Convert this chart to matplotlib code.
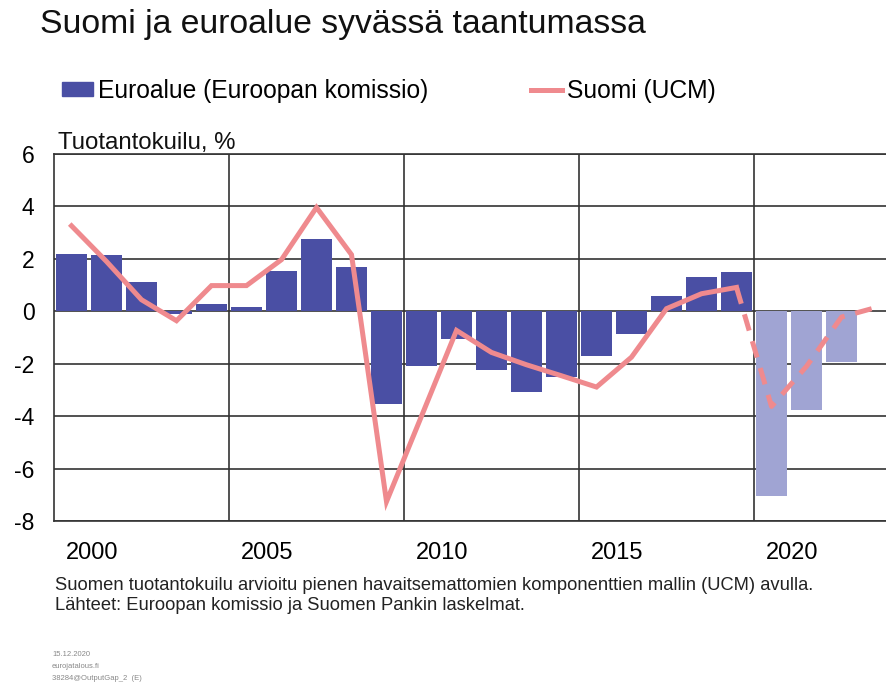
import numpy as np
import matplotlib
matplotlib.use("Agg")
from matplotlib import pyplot as plt
from matplotlib.patches import Patch
from matplotlib.lines import Line2D

plt.rcParams['font.family'] = ['Liberation Sans', 'DejaVu Sans']

#Years on the category axis
years = list(range(2000, 2024))

#Euro area output gap (European Commission), 2020-2022 forecast
euro_years = list(range(2000, 2023))
euro_gap = [2.18, 2.13, 1.10, -0.10, 0.26, 0.16, 1.55, 2.74, 1.70, -3.54,
            -2.10, -1.06, -2.25, -3.08, -2.51, -1.70, -0.86, 0.60, 1.30, 1.48,
            -7.04, -3.77, -1.94]
forecast_from = 2020

#Finland output gap (UCM), dashed after 2019
fin_gap = [3.26, 1.90, 0.44, -0.36, 0.98, 0.98, 1.97, 3.96, 2.16, -7.26,
           -4.00, -0.73, -1.57, -2.04, -2.46, -2.89, -1.75, 0.10, 0.67, 0.91,
           -3.63, -2.10, -0.22, 0.15]
fin_last_actual = 2019

yticks = [6, 4, 2, 0, -2, -4, -6, -8]
xlabels = ['2000', '2005', '2010', '2015', '2020']

dark_blue = '#4a4fa4'
light_blue = '#a0a4d3'
pink = '#ef8a8e'
grid_col = '#333333'

fig = plt.figure(figsize=(8.87, 6.87), dpi=100)
ax = fig.add_axes([54/887, 166/687, 833/887, 367/687])

idx = np.arange(len(euro_years))
bar_cols = [light_blue if y >= forecast_from else dark_blue for y in euro_years]
ax.bar(idx, euro_gap, width=0.91, color=bar_cols, zorder=2)

fidx = np.arange(len(years))
cut = years.index(fin_last_actual)
ax.plot(fidx[:cut+1], fin_gap[:cut+1], color=pink, lw=3.6, zorder=3,
        solid_joinstyle='miter')
ax.plot(fidx[cut:], fin_gap[cut:], color=pink, lw=3.6, zorder=3,
        dashes=(3.4, 2.2))

ax.set_ylim(-8, 6)
ax.set_xlim(-0.5, 23.3)

ax.set_yticks(yticks)
ax.set_yticklabels([str(v) for v in yticks], fontsize=16.5)
ax.yaxis.grid(True, color=grid_col, lw=1.2, zorder=1)

#labels sit to the right of the five-year gridlines
ax.set_xticks([k*5 + 0.6 for k in range(len(xlabels))])
ax.set_xticklabels(xlabels, fontsize=17)
ax.set_xticks([k*5 - 0.5 for k in range(1, 5)], minor=True)
ax.xaxis.grid(True, which='minor', color=grid_col, lw=1.2, zorder=1)
ax.tick_params(axis='both', which='both', length=0)
ax.tick_params(axis='x', pad=15)
ax.tick_params(axis='y', pad=14)
ax.set_axisbelow(True)

for s in ['left', 'top', 'bottom']:
    ax.spines[s].set_color(grid_col)
    ax.spines[s].set_linewidth(1.2)
ax.spines['right'].set_visible(False)

fig.text(40/887, 1 - 25/687, 'Suomi ja euroalue syvässä taantumassa',
         fontsize=24.3, va='center', ha='left', color='#111111')

handles = [Patch(color=dark_blue), Line2D([0], [0], color=pink, lw=3.6)]
fig.legend(handles, ['Euroalue (Euroopan komissio)', 'Suomi (UCM)'],
           loc='center left', bbox_to_anchor=(62/887, 1 - 91/687), ncol=2,
           frameon=False, fontsize=17.7, handlelength=1.25, handleheight=0.5,
           handletextpad=0.2, columnspacing=4.2, borderpad=0, borderaxespad=0)

fig.text(58/887, 1 - 143/687, 'Tuotantokuilu, %', fontsize=17.3,
         va='center', ha='left', color='#111111')

fig.text(55/887, 1 - 585/687,
         'Suomen tuotantokuilu arvioitu pienen havaitsemattomien komponenttien mallin (UCM) avulla.',
         fontsize=13.2, va='center', ha='left', color='#222222')
fig.text(55/887, 1 - 606/687,
         'Lähteet: Euroopan komissio ja Suomen Pankin laskelmat.',
         fontsize=13.2, va='center', ha='left', color='#222222')

for i, t in enumerate(['15.12.2020', 'eurojatalous.fi', '38284@OutputGap_2  (E)']):
    fig.text(52/887, 1 - (655 + i*11.5)/687, t, fontsize=5.5,
             va='center', ha='left', color='#888888')

fig.savefig('out.png', dpi=100)
